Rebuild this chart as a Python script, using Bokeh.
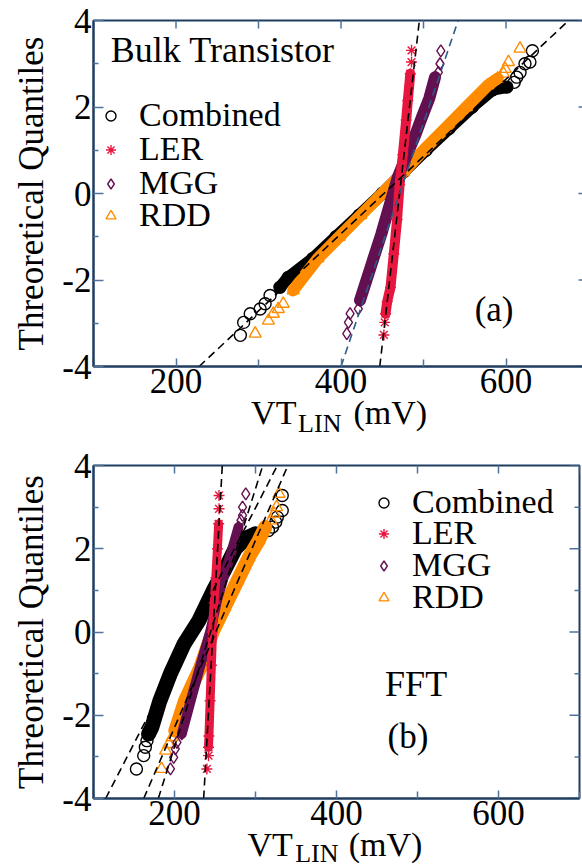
import math
from bokeh.plotting import figure
from bokeh.layouts import column
from bokeh.models import Range1d, FixedTicker, Label, Legend, LegendItem
from bokeh.embed import file_html
from bokeh.resources import INLINE

FONT = "Liberation Serif"
FRAME = "#1f3d60"
TICK = "#4f739b"

SERIES = ["Combined", "LER", "MGG", "RDD"]
COLORS = {"Combined": "black", "LER": "#e8173f", "MGG": "#631050", "RDD": "#ff8c00"}
MARKERS = {"Combined": "circle", "LER": "asterisk", "MGG": "diamond", "RDD": "triangle"}

# ---------------- Panel (a): Bulk Transistor ----------------
a_comb_vt = [278, 282, 290, 302, 308, 314, 326, 336, 366, 394, 422, 450, 476, 503, 531, 559, 584, 601, 610, 613, 617, 623, 629, 632]
a_comb_q = [-3.28, -2.98, -2.78, -2.67, -2.55, -2.36, -2.17, -1.94, -1.5, -1.0, -0.5, 0.0, 0.5, 1.0, 1.5, 2.0, 2.4, 2.46, 2.57, 2.69, 2.8, 3.0, 3.04, 3.3]
a_ler_vt = [452, 453, 454, 456, 460, 464, 468, 471, 475, 479, 481, 484, 485.5, 485.5]
a_ler_q = [-3.27, -2.98, -2.78, -2.5, -2.17, -1.4, -0.6, 0.2, 0.9, 1.7, 2.15, 2.77, 3.04, 3.31]
a_mgg_vt = [407, 409, 411, 421, 423, 436, 449, 460, 469, 480, 490, 498, 507, 514, 518, 520, 521]
a_mgg_q = [-3.24, -2.98, -2.78, -2.67, -2.47, -1.7, -0.93, -0.2, 0.38, 0.9, 1.35, 1.76, 2.2, 2.69, 2.8, 3.0, 3.3]
a_rdd_vt = [296, 312, 318, 324, 330, 342, 372, 398, 424, 450, 476, 500, 526, 552, 578, 590, 597, 599, 603, 617]
a_rdd_q = [-3.24, -2.94, -2.78, -2.67, -2.55, -2.24, -1.5, -1.0, -0.5, 0.0, 0.5, 1.0, 1.5, 2.0, 2.5, 2.66, 2.77, 2.88, 3.04, 3.35]
# dashed normal fit lines: VT at q = -4 and q = 4
fit_q = [-4, 4]
a_fit_comb_vt = [228, 676]
a_fit_ler_vt = [447, 495]
a_fit_mgg_vt = [400, 542]

# ---------------- Panel (b): FFT ----------------
b_comb_vt = [153, 162, 164, 166, 168, 172, 182, 195, 212, 230, 248, 262, 275, 288, 300, 316, 321, 325, 327, 333, 333]
b_comb_q = [-3.29, -2.97, -2.77, -2.61, -2.45, -2.29, -1.65, -1.0, -0.28, 0.27, 1.0, 1.5, 2.0, 2.25, 2.36, 2.44, 2.52, 2.64, 2.76, 2.92, 3.28]
b_ler_vt = [240, 242, 242, 242.5, 244, 245.5, 247, 249, 251, 253, 254.5, 255, 255]
b_ler_q = [-3.29, -2.97, -2.77, -2.5, -1.65, -0.8, 0.0, 0.7, 1.3, 2.0, 2.6, 2.96, 3.28]
b_mgg_vt = [195, 199, 201, 203, 209, 220, 232, 244, 253, 262, 270, 279, 282, 284, 284, 288]
b_mgg_q = [-3.29, -3.01, -2.81, -2.65, -2.45, -1.65, -0.8, 0.0, 0.8, 1.4, 1.9, 2.52, 2.68, 2.8, 3.0, 3.32]
b_rdd_vt = [184, 189, 193, 197, 201, 213, 232, 247, 262, 278, 292, 304, 312, 319, 323, 326, 329]
b_rdd_q = [-3.29, -2.85, -2.69, -2.53, -2.37, -1.65, -0.85, 0.0, 0.6, 1.24, 1.8, 2.2, 2.52, 2.68, 2.84, 3.0, 3.32]
b_fit_comb_vt = [115, 327]
b_fit_ler_vt = [236, 259]
b_fit_mgg_vt = [180, 309]
b_fit_rdd_vt = [162, 340]

X_RANGE = (100, 700)
Y_RANGE = (-4, 4)
X_MAJOR = [200, 400, 600]
X_MINOR = [100, 300, 500, 700]
Y_MAJOR = [-4, -2, 0, 2, 4]
Y_MINOR = [-3, -1, 1, 3]
X_TITLE = ["VT", "LIN", "(mV)"]
Y_TITLE = "Threoretical Quantiles"


def style_axis(ax, is_x):
    ax.ticker = FixedTicker(ticks=X_MAJOR, minor_ticks=X_MINOR) if is_x else FixedTicker(ticks=Y_MAJOR, minor_ticks=Y_MINOR)
    ax.axis_line_color = FRAME
    ax.axis_line_width = 2
    ax.major_tick_line_color = TICK
    ax.minor_tick_line_color = TICK
    ax.major_tick_line_width = 1.5
    ax.minor_tick_line_width = 1.5
    ax.major_tick_out = 0
    ax.minor_tick_out = 0
    ax.major_tick_in = 8 if is_x else 10
    ax.minor_tick_in = 7 if is_x else 5
    ax.major_label_text_font = FONT
    ax.major_label_text_font_size = "35px"
    ax.major_label_text_color = "black"
    ax.major_label_standoff = 2
    if not is_x:
        ax.major_label_overrides = {-4: "-4", -2: "-2", 0: "0", 2: "2", 4: "4"}


def make_panel(frame_w, frame_h, border, data, fits, bands, legend_x, legend_ys, legend_standoff):
    p = figure(frame_width=frame_w, frame_height=frame_h, output_backend="svg", toolbar_location=None,
               x_range=Range1d(*X_RANGE), y_range=Range1d(*Y_RANGE),
               min_border_left=border[0], min_border_right=border[1],
               min_border_top=border[2], min_border_bottom=border[3])
    p.grid.visible = False
    p.outline_line_color = FRAME
    p.outline_line_width = 2
    p.background_fill_color = "white"
    p.border_fill_color = "white"
    style_axis(p.xaxis[0], True)
    style_axis(p.yaxis[0], False)
    p.yaxis[0].axis_label = Y_TITLE
    p.yaxis[0].axis_label_text_font = FONT
    p.yaxis[0].axis_label_text_font_size = "35px"
    p.yaxis[0].axis_label_text_font_style = "normal"
    p.yaxis[0].axis_label_text_color = "black"
    p.yaxis[0].axis_label_standoff = 8

    # mirrored inward ticks on the right and top edges
    p.scatter([X_RANGE[1]] * len(Y_MAJOR), Y_MAJOR, marker="dash", size=20, line_color=TICK, line_width=1.5)
    p.scatter([X_RANGE[1]] * len(Y_MINOR), Y_MINOR, marker="dash", size=10, line_color=TICK, line_width=1.5)
    xt = X_MAJOR + X_MINOR
    p.scatter(xt, [Y_RANGE[1]] * len(xt), marker="dash", angle=math.pi / 2, size=16,
              line_color=TICK, line_width=1.5)

    renderers = {}
    for name in ["Combined", "RDD", "MGG", "LER"]:
        vt, q = data[name]
        lo, hi, w = bands[name]
        bx = [x for x, y in zip(vt, q) if lo <= y <= hi]
        by = [y for y in q if lo <= y <= hi]
        c = COLORS[name]
        p.line(bx, by, line_width=w, line_color=c, line_cap="round", line_join="round")
        r = p.scatter(vt, q, marker=MARKERS[name], size=12 if name != "LER" else 11,
                      line_color=c, fill_color=None, line_width=1.4)
        renderers[name] = r
    for vt, col in fits:
        p.line(vt, fit_q, line_color=col, line_width=1.6, line_dash="8 5")

    for name, ly in zip(SERIES, legend_ys):
        legend = Legend(items=[LegendItem(label=name, renderers=[renderers[name]])],
                        location=(legend_x, ly), orientation="vertical",
                        label_text_font=FONT, label_text_font_size="34px", label_text_color="black",
                        glyph_width=25, glyph_height=25, label_height=38, spacing=0,
                        padding=0, margin=0, label_standoff=legend_standoff,
                        border_line_alpha=0, background_fill_alpha=0)
        p.add_layout(legend)
    return p


def make_xtitle(x_range, border_left, border_right, frame_w, h, pos):
    t = figure(frame_width=frame_w, frame_height=h, output_backend="svg", toolbar_location=None,
               x_range=x_range, y_range=Range1d(0, h), x_axis_type=None, y_axis_type=None,
               min_border_left=border_left, min_border_right=border_right,
               min_border_top=0, min_border_bottom=0, margin=(-h, 0, 0, 0))
    t.grid.visible = False
    t.outline_line_color = None
    t.background_fill_color = None
    t.border_fill_color = None
    (vx, vy), (lx, ly), (mx, my) = pos
    t.add_layout(Label(x=vx, y=vy, text=X_TITLE[0], text_font=FONT, text_font_size="34px",
                       text_color="black", text_baseline="alphabetic"))
    t.add_layout(Label(x=lx, y=ly, text=X_TITLE[1], text_font=FONT, text_font_size="26px",
                       text_color="black", text_baseline="alphabetic"))
    t.add_layout(Label(x=mx, y=my, text=X_TITLE[2], text_font=FONT, text_font_size="34px",
                       text_color="black", text_baseline="alphabetic"))
    return t


pa = make_panel(495, 346, (87, 0, 20, 74),
                {"Combined": (a_comb_vt, a_comb_q), "LER": (a_ler_vt, a_ler_q),
                 "MGG": (a_mgg_vt, a_mgg_q), "RDD": (a_rdd_vt, a_rdd_q)},
                [(a_fit_comb_vt, "black"), (a_fit_ler_vt, "black"), (a_fit_mgg_vt, "#2b5c8a")],
                {"Combined": (-2.2, 2.47, 12), "LER": (-2.8, 2.8, 10),
                 "MGG": (-2.5, 2.7, 12), "RDD": (-2.3, 2.7, 12)},
                13, [232, 198, 164, 132], 16)
pa.add_layout(Label(x=121, y=3.31, text="Bulk Transistor", text_font=FONT, text_color="black",
                    text_font_size="36px", text_baseline="alphabetic"))
pa.add_layout(Label(x=562, y=-2.69, text="(a)", text_font=FONT, text_color="black",
                    text_font_size="35px", text_baseline="alphabetic"))
ta = make_xtitle(pa.x_range, 87, 0, 495, 46, ((291, 28), (348, 17), (415, 28)))

pb = make_panel(486, 333, (93, 3, 25, 69),
                {"Combined": (b_comb_vt, b_comb_q), "LER": (b_ler_vt, b_ler_q),
                 "MGG": (b_mgg_vt, b_mgg_q), "RDD": (b_rdd_vt, b_rdd_q)},
                [(b_fit_comb_vt, "black"), (b_fit_ler_vt, "black"), (b_fit_mgg_vt, "black"), (b_fit_rdd_vt, "black")],
                {"Combined": (-2.46, 2.37, 15), "LER": (-2.8, 2.7, 9),
                 "MGG": (-2.5, 2.55, 10), "RDD": (-2.4, 2.55, 14)},
                278, [277, 246, 214, 182], 16)
pb.add_layout(Label(x=460, y=-1.24, text="FFT", text_font=FONT, text_color="black",
                    text_font_size="36px", text_baseline="alphabetic"))
pb.add_layout(Label(x=463, y=-2.51, text="(b)", text_font=FONT, text_color="black",
                    text_font_size="35px", text_baseline="alphabetic"))
tb = make_xtitle(pb.x_range, 93, 3, 486, 42, ((290, 23), (349, 14), (415, 23)))

layout = column(pa, ta, pb, tb, spacing=0)
open("out.html", "w").write(file_html(layout, INLINE))
